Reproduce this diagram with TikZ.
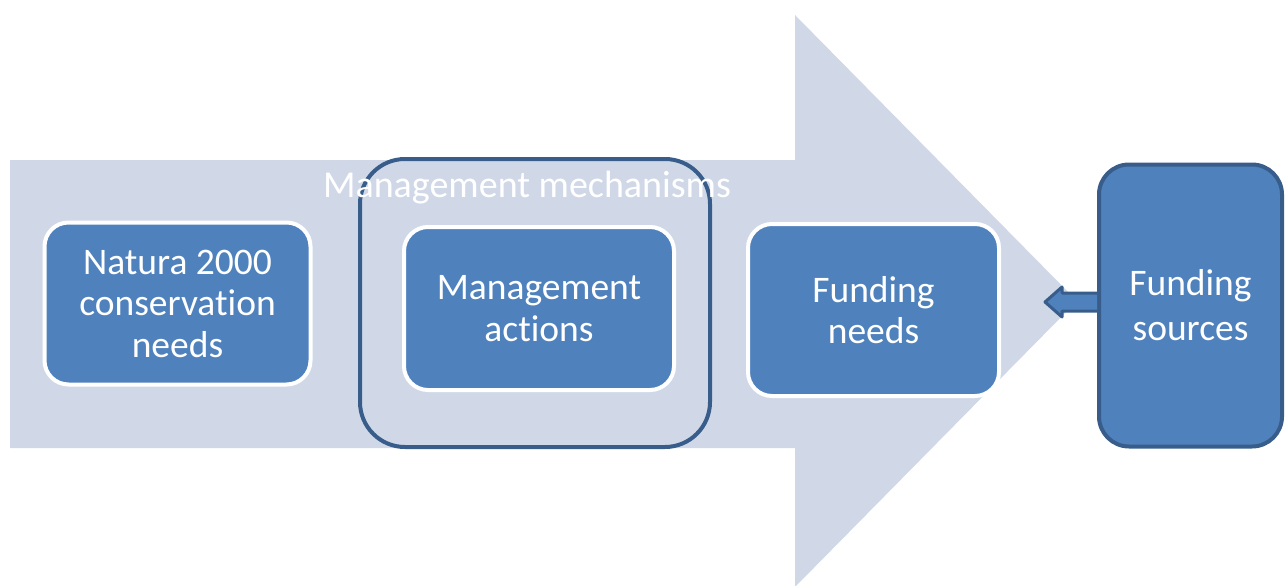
\documentclass[tikz,border=0pt]{standalone}
\usepackage{fontspec}
\setmainfont[Ligatures=NoCommon]{Carlito}
\usetikzlibrary{calc}
\definecolor{lightarrow}{RGB}{208,216,232}
\definecolor{boxfill}{RGB}{79,129,189}
\definecolor{darkline}{RGB}{56,93,138}
\tikzset{
  stage/.style={draw=white, line width=4pt, fill=boxfill, rounded corners=24pt,
    text=white, align=center, inner sep=0pt,
    font=\fontsize{37.5}{41.5}\selectfont},
  source/.style={draw=darkline, line width=4pt, fill=boxfill, rounded corners=30pt,
    text=white, align=center, inner sep=0pt,
    font=\fontsize{37.5}{45}\selectfont},
  group/.style={draw=darkline, line width=4pt, rounded corners=45pt, inner sep=0pt},
  grouplabel/.style={text=white, font=\fontsize{38}{42}\selectfont, inner sep=0pt}
}
\begin{document}
\begin{tikzpicture}[x=1pt,y=-1pt]
\useasboundingbox (0,0) rectangle (1285,586);
% big background arrow
\fill[lightarrow] (10,160) -- (795,160) -- (795,15) -- (1077,301) -- (795,587) -- (795,448) -- (10,448) -- cycle;
% management mechanisms group
\node[group, minimum width=350pt, minimum height=288pt] (mech) at (535,303) {};
% stages
\node[stage, minimum width=266pt, minimum height=162pt] (natura) at (177.5,303.5) {Natura 2000\\conservation\\needs};
\node[stage, minimum width=270pt, minimum height=163pt] (actions) at (539,308.5) {Management\\actions};
\node[stage, minimum width=251pt, minimum height=172pt] (fneeds) at (873.5,310) {Funding\\needs};
\node[source, minimum width=183pt, minimum height=282pt] (fsources) at (1190.5,305.5) {Funding\\sources};
\node[grouplabel] (mechlabel) at (527,188) {Management mechanisms};
% small arrow from funding sources
\coordinate (tip) at (1045,302);
\draw[darkline, line width=3pt, fill=boxfill, line join=round]
  ($(fsources.west)+(0,-12.5)$) -- ($(tip)+(17,-9)$) -- ($(tip)+(17,-15)$) -- (tip)
  -- ($(tip)+(17,15)$) -- ($(tip)+(17,9)$) -- ($(fsources.west)+(0,5.5)$);
\end{tikzpicture}
\end{document}
